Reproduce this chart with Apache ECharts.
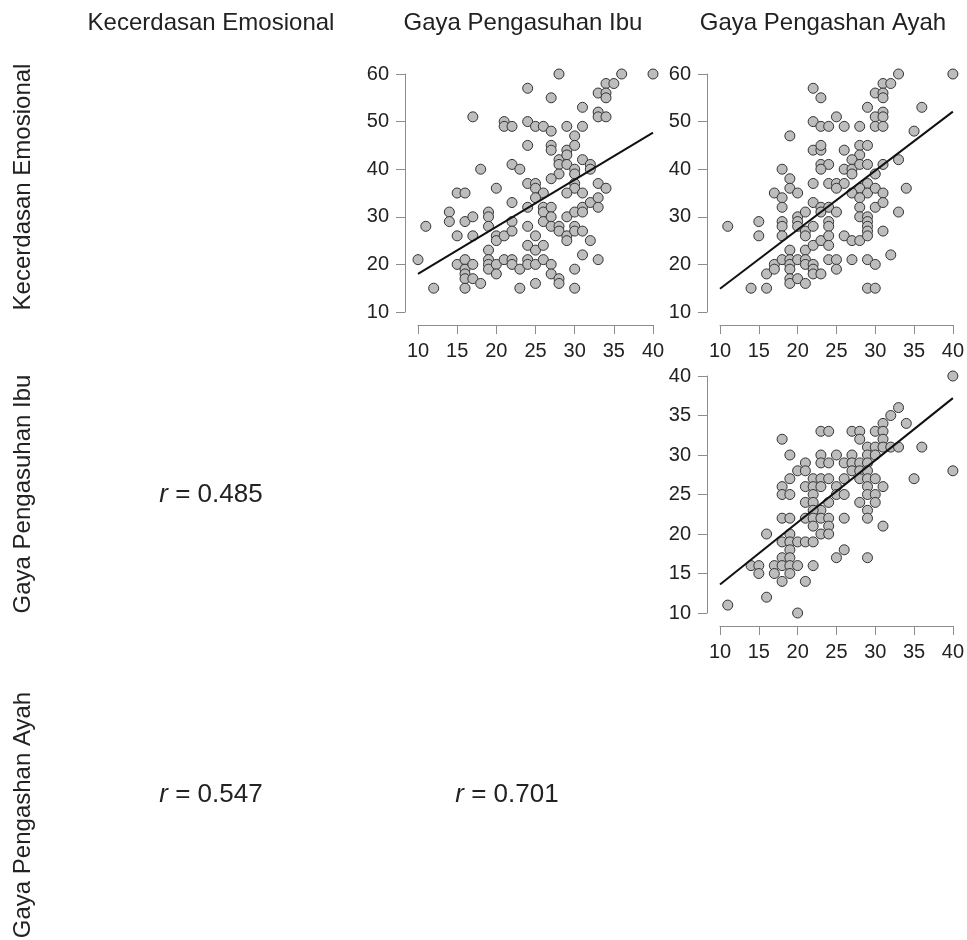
<!DOCTYPE html>
<html><head><meta charset="utf-8">
<script src="https://cdn.jsdelivr.net/npm/echarts@6/dist/echarts.min.js"></script>
<style>html,body{margin:0;padding:0;background:#fff}#c{width:967px;height:940px}</style>
</head><body><div id="c"></div>
<script>
// Variable names
const varNames = ['Kecerdasan Emosional', 'Gaya Pengasuhan Ibu', 'Gaya Pengashan Ayah'];
// Correlation labels (lower triangle)
const rIbuKec = '0.485';
const rAyahKec = '0.547';
const rAyahIbu = '0.701';
// Tick ranges [min, max, interval]
const ticksX = [10, 40, 5];
const ticksKec = [10, 60, 10];
const ticksIbu = [10, 40, 5];

// Panel 1: x = Gaya Pengasuhan Ibu, y = Kecerdasan Emosional
const ibuVsKec = [
[28,60],[36,60],[40,60],[34,58],[35,58],[33,56],[34,56],[34,55],[24,57],[27,55],[31,53],[33,52],[33,51],[34,51],[17,51],
[21,50],[21,49],[22,49],[24,50],[25,49],[26,49],[27,48],[29,49],[31,49],[30,47],[24,45],[27,45],[27,44],[29,44],[30,45],
[28,42],[29,43],[31,42],[32,41],[32,40],[28,41],[29,41],[30,40],[28,39],[30,39],[18,40],[22,41],[23,40],[20,36],[15,35],
[16,35],[24,37],[25,37],[25,36],[26,35],[27,38],[30,37],[30,36],[29,35],[31,35],[33,37],[34,36],[31,32],
[10,21],[11,28],[12,15],[14,31],[14,29],[15,26],[15,20],[16,21],[16,19],[16,18],[16,17],[16,15],[16,29],[17,30],[17,26],
[17,20],[17,17],[18,16],[19,31],[19,30],[19,28],[19,23],[19,21],[19,20],[19,19],[20,26],[20,25],[20,20],[20,18],[21,26],
[21,21],[22,33],[22,29],[22,27],[22,21],[22,20],[23,19],[23,15],[24,32],[24,28],[24,24],[24,21],[24,20],[25,34],[25,26],
[25,23],[25,20],[25,16],[26,32],[26,31],[26,29],[26,24],[26,21],[27,32],[27,30],[27,28],[27,20],[27,18],[28,28],[28,27],
[28,17],[28,16],[29,30],[29,26],[29,25],[30,31],[30,28],[30,27],[30,19],[30,15],[31,31],[31,27],[31,22],[32,33],[32,25],
[33,34],[33,32],[33,21]
];
const fitIbuKec = [[10,18.0],[40,47.7]];

// Panel 2: x = Gaya Pengashan Ayah, y = Kecerdasan Emosional
const ayahVsKec = [
[33,60],[40,60],[31,58],[32,58],[30,56],[31,56],[31,55],[22,57],[23,55],[29,53],[36,53],[31,52],[30,51],[31,51],[25,51],
[22,50],[23,49],[24,49],[26,49],[28,49],[30,49],[31,49],[35,48],[19,47],[22,44],[23,44],[23,45],[26,44],[28,45],[29,45],
[28,43],[27,42],[18,40],[23,41],[24,41],[23,40],[26,40],[27,40],[27,39],[28,41],[29,41],[31,41],[33,42],[30,39],[19,38],
[19,36],[17,35],[18,34],[20,35],[22,37],[24,37],[25,37],[26,37],[25,36],[29,37],[28,36],[29,35],[30,36],[31,35],[27,35],
[28,34],[34,36],[22,33],[23,32],[24,32],[18,32],[28,32],[30,32],[31,33],
[11,28],[14,15],[16,15],[15,29],[15,26],[16,18],[17,20],[17,19],[18,29],[18,28],[18,26],[18,21],[19,23],[19,21],[19,20],
[19,19],[19,17],[19,16],[20,30],[20,29],[20,28],[20,21],[20,17],[21,31],[21,27],[21,26],[21,23],[21,21],[21,20],[21,16],
[22,28],[22,24],[22,20],[22,19],[22,18],[23,31],[23,25],[23,18],[24,29],[24,28],[24,26],[24,24],[24,21],[25,31],[25,21],
[25,19],[26,26],[27,25],[27,21],[28,30],[28,25],[29,30],[29,29],[29,28],[29,27],[29,26],[29,21],[29,15],[30,20],[30,15],
[31,27],[32,22],[33,31]
];
const fitAyahKec = [[10,14.9],[40,52.1]];

// Panel 3: x = Gaya Pengashan Ayah, y = Gaya Pengasuhan Ibu
const ayahVsIbu = [
[40,40],[40,28],[33,36],[32,35],[31,34],[34,34],[23,33],[24,33],[27,33],[28,33],[30,33],[31,33],[28,32],[31,32],[18,32],
[29,31],[30,31],[31,31],[32,31],[33,31],[36,31],[19,30],[23,30],[25,30],[27,30],[29,30],[30,30],[21,29],[23,29],[24,29],
[26,29],[27,29],[28,29],[29,29],[20,28],[21,28],[27,28],[28,28],[29,28],[19,27],[22,27],[23,27],[24,27],[26,27],[28,27],
[29,27],[30,27],[35,27],[18,26],[21,26],[22,26],[23,26],[25,26],[29,26],[31,26],[18,25],[19,25],[22,25],[25,25],[26,25],
[29,25],[30,25],[21,24],[22,24],[24,24],[28,24],[30,24],[23,23],[29,23],
[22,23],[21,22],[22,22],[23,22],[24,22],[22,21],[24,21],[23,20],[24,20],[16,20],[18,22],[19,22],[26,22],[29,22],[31,21],
[19,20],[18,19],[19,19],[20,19],[21,19],[22,19],[19,18],[18,17],[19,17],[25,17],[26,18],[29,17],[14,16],[15,16],[17,16],
[18,16],[19,16],[20,16],[22,16],[15,15],[17,15],[19,15],[18,14],[21,14],[16,12],[11,11],[20,10]
];
const fitAyahIbu = [[10,13.6],[40,37.2]];

const FONT = '"Liberation Sans", Arial, Helvetica, sans-serif';
const AXC = '#8c8c8c';
const TXC = '#222222';

const chart = echarts.init(document.getElementById('c'), null, {renderer: 'canvas'});

const grids = [
  {left: 418, top: 74, width: 235, height: 238},
  {left: 720, top: 74, width: 234, height: 238},
  {left: 720, top: 376, width: 234, height: 237}
];
function axis(gi, t) {
  return {type: 'value', gridIndex: gi, min: t[0], max: t[1], interval: t[2], offset: 13,
    axisLine: {show: true, lineStyle: {color: AXC, width: 1}},
    axisTick: {show: true, length: 9, lineStyle: {color: AXC}},
    axisLabel: {show: true, color: TXC, fontSize: 20, fontFamily: FONT, margin: 16},
    splitLine: {show: false}};
}
function pts(i, data) {
  return {type: 'scatter', xAxisIndex: i, yAxisIndex: i, data: data, symbol: 'circle', symbolSize: 10,
    itemStyle: {color: '#bdbdbd', borderColor: '#333333', borderWidth: 1, opacity: 1}, z: 2};
}
function fit(i, data) {
  return {type: 'line', xAxisIndex: i, yAxisIndex: i, data: data, showSymbol: false, symbol: 'none',
    lineStyle: {color: '#111', width: 2}, z: 3, silent: true};
}
function label(x, y, text, rot, rich) {
  return {type: 'text', x: x, y: y, rotation: rot || 0,
    style: {text: text, fontSize: 24, fontFamily: FONT, fill: TXC, align: 'center', verticalAlign: 'middle',
      rich: rich || undefined}};
}
const richR = {i: {fontStyle: 'italic', fontSize: 26, fontFamily: FONT, fill: TXC}, n: {fontSize: 26, fontFamily: FONT, fill: TXC}};

chart.setOption({
  animation: false,
  backgroundColor: '#ffffff',
  grid: grids,
  xAxis: [axis(0, ticksX), axis(1, ticksX), axis(2, ticksX)],
  yAxis: [axis(0, ticksKec), axis(1, ticksKec), axis(2, ticksIbu)],
  series: [
    pts(0, ibuVsKec), fit(0, fitIbuKec),
    pts(1, ayahVsKec), fit(1, fitAyahKec),
    pts(2, ayahVsIbu), fit(2, fitAyahIbu)
  ],
  graphic: [
    label(211, 23, varNames[0]),
    label(523, 23, varNames[1]),
    label(823, 23, varNames[2]),
    label(23, 187, varNames[0], Math.PI / 2),
    label(23, 494, varNames[1], Math.PI / 2),
    label(23, 815, varNames[2], Math.PI / 2),
    label(211, 495, '{i|r}{n| = ' + rIbuKec + '}', 0, richR),
    label(211, 795, '{i|r}{n| = ' + rAyahKec + '}', 0, richR),
    label(507, 795, '{i|r}{n| = ' + rAyahIbu + '}', 0, richR)
  ]
});
</script>
</body></html>
